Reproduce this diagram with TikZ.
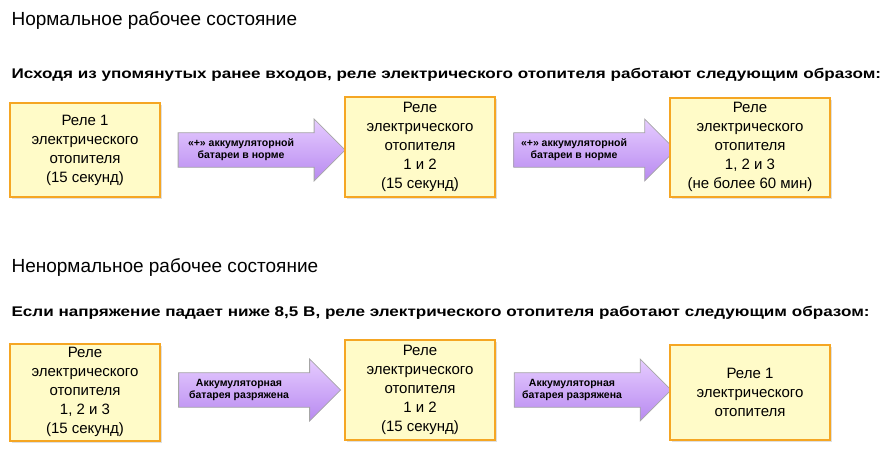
\documentclass[tikz,border=0pt]{standalone}
\usepackage{fontspec}
\setmainfont{Liberation Sans}
\usetikzlibrary{shapes.arrows,shadows}
\definecolor{boxfill}{HTML}{FFFBC8}
\definecolor{boxdraw}{HTML}{F5A623}
\definecolor{arrowL}{HTML}{E6CCFF}
\definecolor{arrowD}{HTML}{B88AF0}
\newcommand{\arrtxt}[1]{\begin{tabular}{@{}c@{}}#1\end{tabular}\hspace*{24pt}}
\begin{document}
\begin{tikzpicture}[x=1pt,y=-1pt,
  relbox/.style={draw=boxdraw,line width=2pt,fill=boxfill,align=center,font=\fontsize{15}{19}\selectfont,inner sep=0pt,
    drop shadow={shadow xshift=2pt,shadow yshift=-2pt,fill=black!25}},
  bigarrow/.style={single arrow,draw=gray!70,line width=0.8pt,top color=arrowL,bottom color=arrowD,
    single arrow head extend=13pt,minimum width=62pt,inner xsep=0pt,inner ysep=4pt,
    font=\fontsize{10.5}{12}\selectfont\bfseries},
  ttl/.style={anchor=west,font=\fontsize{19}{21}\selectfont},
  sub/.style={anchor=west,font=\fontsize{14}{16}\selectfont\bfseries}]
\useasboundingbox (0,0) rectangle (889,471);
\node[ttl] (t1) at (8,21) {Нормальное рабочее состояние};
\node[sub] (s1) at (8,75) {\scalebox{1.22}[1]{Исходя из упомянутых ранее входов, реле электрического отопителя работают следующим образом:}};
\node[relbox,minimum width=150pt,minimum height=94pt] (b1) at (85,150) {Реле 1\\электрического\\отопителя\\(15 секунд)};
\node[bigarrow,minimum height=167pt] (a1) at (253,150) {\arrtxt{«+» аккумуляторной\\батареи в норме}};
\node[relbox,minimum width=150pt,minimum height=100pt] (b2) at (420,147) {Реле\\электрического\\отопителя\\1 и 2\\(15 секунд)};
\node[bigarrow,minimum height=162pt] (a2) at (586,150) {\arrtxt{«+» аккумуляторной\\батареи в норме}};
\node[relbox,minimum width=160pt,minimum height=99pt] (b3) at (750,147) {Реле\\электрического\\отопителя\\1, 2 и 3\\(не более 60 мин)};
\node[ttl] (t2) at (8,268) {Ненормальное рабочее состояние};
\node[sub] (s2) at (8,313) {\scalebox{1.22}[1]{Если напряжение падает ниже 8,5 В, реле электрического отопителя работают следующим образом:}};
\node[relbox,minimum width=150pt,minimum height=97pt] (b4) at (85,392) {Реле\\электрического\\отопителя\\1, 2 и 3\\(15 секунд)};
\node[bigarrow,minimum height=162pt] (a3) at (251,390) {\arrtxt{Аккумуляторная\\батарея разряжена}};
\node[relbox,minimum width=150pt,minimum height=100pt] (b5) at (420,390) {Реле\\электрического\\отопителя\\1 и 2\\(15 секунд)};
\node[bigarrow,minimum height=157pt] (a4) at (584,390) {\arrtxt{Аккумуляторная\\батарея разряжена}};
\node[relbox,minimum width=160pt,minimum height=95pt] (b6) at (750,392) {Реле 1\\электрического\\отопителя};
\end{tikzpicture}
\end{document}
